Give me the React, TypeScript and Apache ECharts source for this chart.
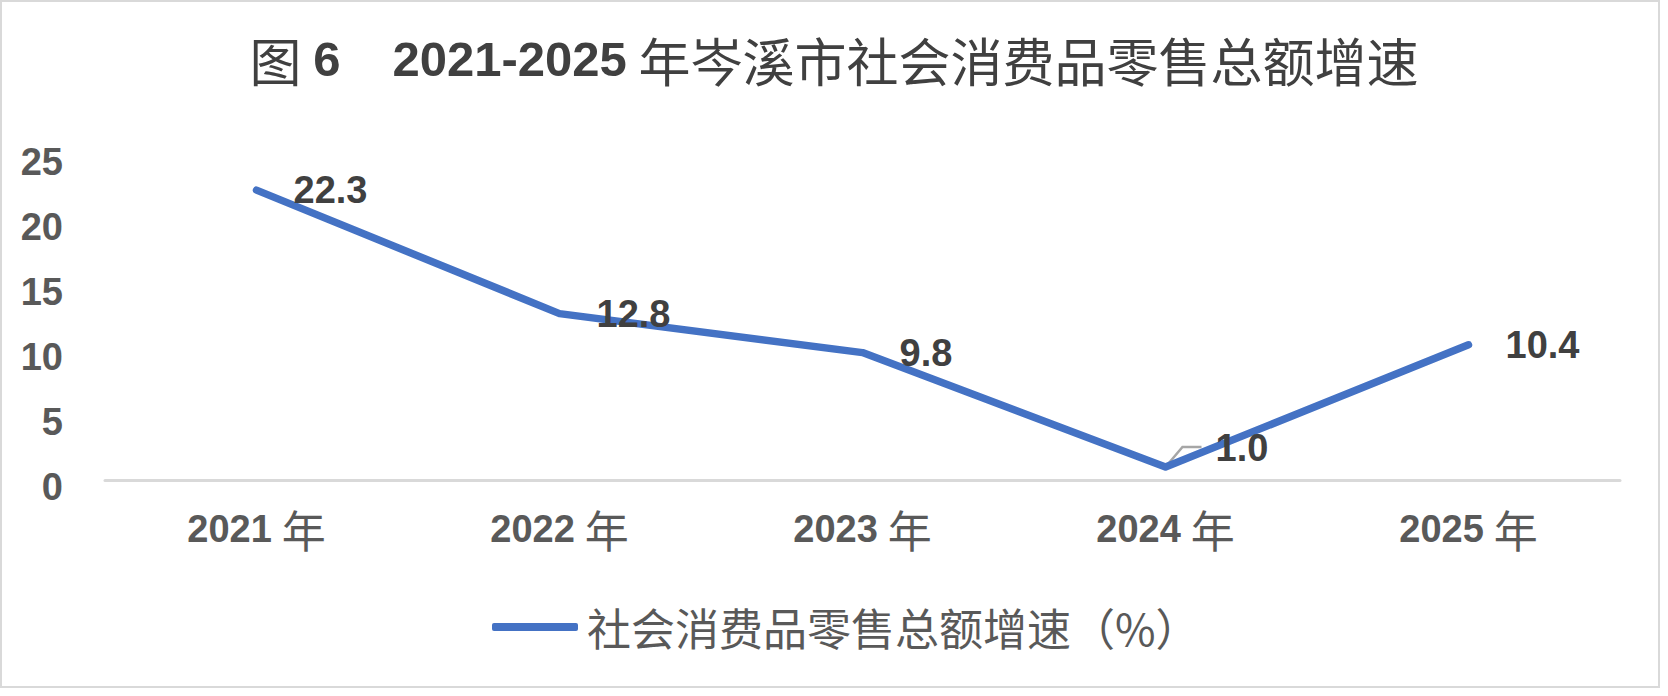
import { useEffect, useRef } from 'react';
import * as echarts from 'echarts';

const years = ['2021 年', '2022 年', '2023 年', '2024 年', '2025 年'];
const growth = [22.3, 12.8, 9.8, 1.0, 10.4];
const seriesName = '社会消费品零售总额增速（%）';
const yMax = 25;
const yStep = 5;

const NUM_FONT = '"Liberation Sans", Arial, sans-serif';
const CJK_FONT = '"Noto Sans CJK SC", sans-serif';

function App() {
  const chartRef = useRef<HTMLDivElement>(null);

  useEffect(() => {
    document.body.style.margin = '0';
    if (!chartRef.current) return;
    const chart = echarts.init(chartRef.current, null, { renderer: 'svg' });

    const option: any = {
      animation: false,
      backgroundColor: '#fff',
      title: {
        left: 'center',
        top: 24,
        text: '{a|图 }{b|6}{a|　}{b|2021-2025}{a| 年岑溪市社会消费品零售总额增速}',
        textStyle: {
          rich: {
            a: { fontFamily: CJK_FONT, fontSize: 52, fontWeight: 'normal', color: '#404040', lineHeight: 60 },
            b: { fontFamily: NUM_FONT, fontSize: 49, fontWeight: 'bold', color: '#404040', lineHeight: 60 },
          },
        },
      },
      legend: {
        left: 487,
        top: 597,
        icon: 'roundRect',
        itemWidth: 86,
        itemHeight: 8,
        itemGap: 10,
        textStyle: { fontFamily: CJK_FONT, fontSize: 44, color: '#595959', lineHeight: 50, padding: [0, 0, 0, 4] },
        data: [seriesName],
      },
      grid: { left: 105, right: 48, top: 155, bottom: 216 },
      xAxis: {
        type: 'category',
        data: years,
        boundaryGap: true,
        axisLine: { lineStyle: { color: '#d9d9d9', width: 3 } },
        axisTick: { show: false },
        axisLabel: {
          margin: 25,
          formatter: (v: string) => `{d|${v.replace(' 年', '')}}{n| 年}`,
          rich: {
            d: { fontFamily: NUM_FONT, fontSize: 38, fontWeight: 'bold', color: '#595959', lineHeight: 48 },
            n: { fontFamily: CJK_FONT, fontSize: 44, color: '#595959', lineHeight: 48 },
          },
        },
      },
      yAxis: {
        type: 'value',
        min: 0,
        max: yMax,
        interval: yStep,
        axisLine: { show: false },
        axisTick: { show: false },
        splitLine: { show: false },
        axisLabel: {
          margin: 42,
          formatter: '{v|{value}}',
          rich: {
            v: {
              fontFamily: NUM_FONT,
              fontSize: 38,
              fontWeight: 'bold',
              color: '#595959',
              lineHeight: 44,
              padding: [14, 0, 0, 0],
            },
          },
        },
      },
      series: [
        {
          name: seriesName,
          type: 'line',
          data: growth.map((v, i) =>
            i === 3 ? { value: v, label: { offset: [13, -19] } } : v
          ),
          showSymbol: true,
          symbol: 'circle',
          symbolSize: 0,
          lineStyle: { color: '#4472C4', width: 7.5, join: 'round', cap: 'round' },
          itemStyle: { color: '#4472C4' },
          label: {
            show: true,
            position: 'right',
            distance: 37,
            formatter: (p: any) => Number(p.value).toFixed(1),
            fontFamily: NUM_FONT,
            fontSize: 38,
            fontWeight: 'bold',
            color: '#404040',
          },
        },
      ],
    };

    chart.setOption(option);

    // leader line for the 2024 label, anchored through the axis scales
    const p = chart.convertToPixel({ seriesIndex: 0 }, [years[3], growth[3]]) as number[];
    chart.setOption({
      graphic: [
        {
          type: 'rect',
          shape: { x: 1, y: 1, width: 1658, height: 686 },
          style: { fill: 'none', stroke: '#d9d9d9', lineWidth: 2 },
          silent: true,
        },
        {
          type: 'polyline',
          shape: { points: [[p[0], p[1]], [p[0] + 17, p[1] - 20], [p[0] + 36, p[1] - 20]] },
          style: { fill: 'none', stroke: '#a6a6a6', lineWidth: 2.5 },
          z: 1,
          silent: true,
        },
      ],
    });

    return () => {
      chart.dispose();
    };
  }, []);

  return <div ref={chartRef} style={{ width: 1668, height: 696 }} />;
}

export default App;
